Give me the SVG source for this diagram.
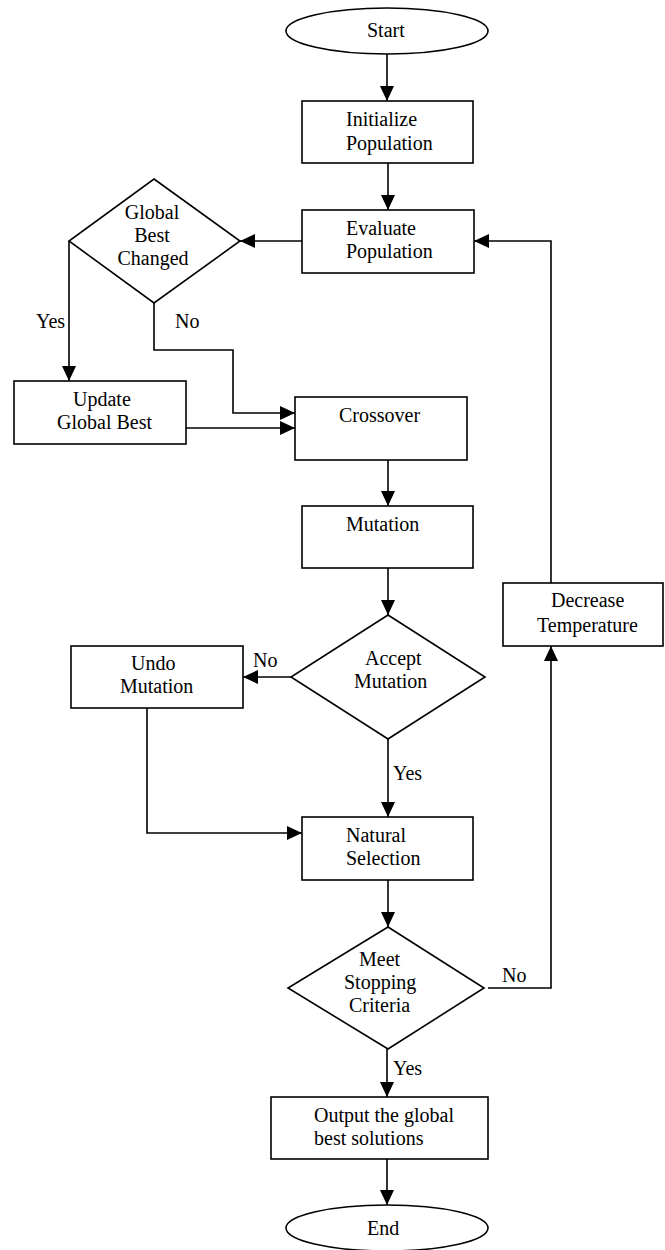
<svg xmlns="http://www.w3.org/2000/svg" width="665" height="1250" viewBox="0 0 665 1250">
<defs>
<style>
.s{fill:#fff;stroke:#000;stroke-width:1.6}
.c{fill:none;stroke:#000;stroke-width:1.6}
text{font-size:20px;fill:#000}
.m{text-anchor:middle}
</style>
<marker id="a" markerUnits="userSpaceOnUse" markerWidth="15" markerHeight="14" refX="15" refY="7" orient="auto">
<path d="M0,0 L15,7 L0,14 z" fill="#000"/>
</marker>
</defs>
<rect width="665" height="1250" fill="#fff"/>
<g font-family="'Liberation Serif', 'Times New Roman', 'DejaVu Serif', serif">
<g id="connectors">
<path class="c" d="M387,54 V101" marker-end="url(#a)"/>
<path class="c" d="M388,163 V210" marker-end="url(#a)"/>
<path class="c" d="M302,241 H240" marker-end="url(#a)"/>
<path class="c" d="M69,241 V381" marker-end="url(#a)"/>
<path class="c" d="M154,303 V350 H233 V413 H295" marker-end="url(#a)"/>
<path class="c" d="M186,428 H295" marker-end="url(#a)"/>
<path class="c" d="M388,460 V506" marker-end="url(#a)"/>
<path class="c" d="M388,568 V615" marker-end="url(#a)"/>
<path class="c" d="M291,677 H243" marker-end="url(#a)"/>
<path class="c" d="M147,708 V833 H302" marker-end="url(#a)"/>
<path class="c" d="M388,739 V817" marker-end="url(#a)"/>
<path class="c" d="M388,880 V927" marker-end="url(#a)"/>
<path class="c" d="M488,988 H551 V646" marker-end="url(#a)"/>
<path class="c" d="M551,583 V241 H474" marker-end="url(#a)"/>
<path class="c" d="M387,1049 V1097" marker-end="url(#a)"/>
<path class="c" d="M387,1159 V1205" marker-end="url(#a)"/>
<text x="36" y="328">Yes</text>
<text x="175" y="328">No</text>
<text x="253" y="667">No</text>
<text x="393" y="780">Yes</text>
<text x="502" y="982">No</text>
<text x="393" y="1075">Yes</text>
</g>
<g id="start">
<ellipse class="s" cx="387" cy="31" rx="101" ry="23"/>
<text x="367" y="37">Start</text>
</g>
<g id="init">
<rect class="s" x="302" y="101" width="171" height="62"/>
<text x="346" y="126">Initialize</text>
<text x="346" y="150">Population</text>
</g>
<g id="evaluate">
<rect class="s" x="302" y="210" width="172" height="63"/>
<text x="346" y="235">Evaluate</text>
<text x="346" y="258">Population</text>
</g>
<g id="gbchanged">
<polygon class="s" points="154,179 240,241 154,303 69,241"/>
<text class="m" x="152" y="219">Global</text>
<text class="m" x="152" y="242">Best</text>
<text class="m" x="153" y="265">Changed</text>
</g>
<g id="update">
<rect class="s" x="14" y="381" width="172" height="63"/>
<text x="73" y="406">Update</text>
<text x="57" y="429">Global Best</text>
</g>
<g id="crossover">
<rect class="s" x="295" y="397" width="172" height="63"/>
<text x="339" y="422">Crossover</text>
</g>
<g id="mutation">
<rect class="s" x="302" y="506" width="171" height="62"/>
<text x="346" y="531">Mutation</text>
</g>
<g id="accept">
<polygon class="s" points="388,615 485,677 388,739 291,677"/>
<text x="365" y="665">Accept</text>
<text x="354" y="688">Mutation</text>
</g>
<g id="undo">
<rect class="s" x="71" y="646" width="172" height="62"/>
<text x="131" y="670">Undo</text>
<text x="120" y="693">Mutation</text>
</g>
<g id="decrease">
<rect class="s" x="503" y="583" width="160" height="63"/>
<text x="551" y="607">Decrease</text>
<text x="537" y="632">Temperature</text>
</g>
<g id="natural">
<rect class="s" x="302" y="817" width="171" height="63"/>
<text x="346" y="842">Natural</text>
<text x="346" y="865">Selection</text>
</g>
<g id="meet">
<polygon class="s" points="388,927 484,988 388,1049 288,988"/>
<text x="359" y="966">Meet</text>
<text x="344" y="989">Stopping</text>
<text x="349" y="1012">Criteria</text>
</g>
<g id="output">
<rect class="s" x="271" y="1097" width="217" height="62"/>
<text x="314" y="1122">Output the global</text>
<text x="314" y="1145">best solutions</text>
</g>
<g id="end">
<ellipse class="s" cx="387" cy="1228" rx="101" ry="23"/>
<text x="367" y="1235">End</text>
</g>
</g>
</svg>
